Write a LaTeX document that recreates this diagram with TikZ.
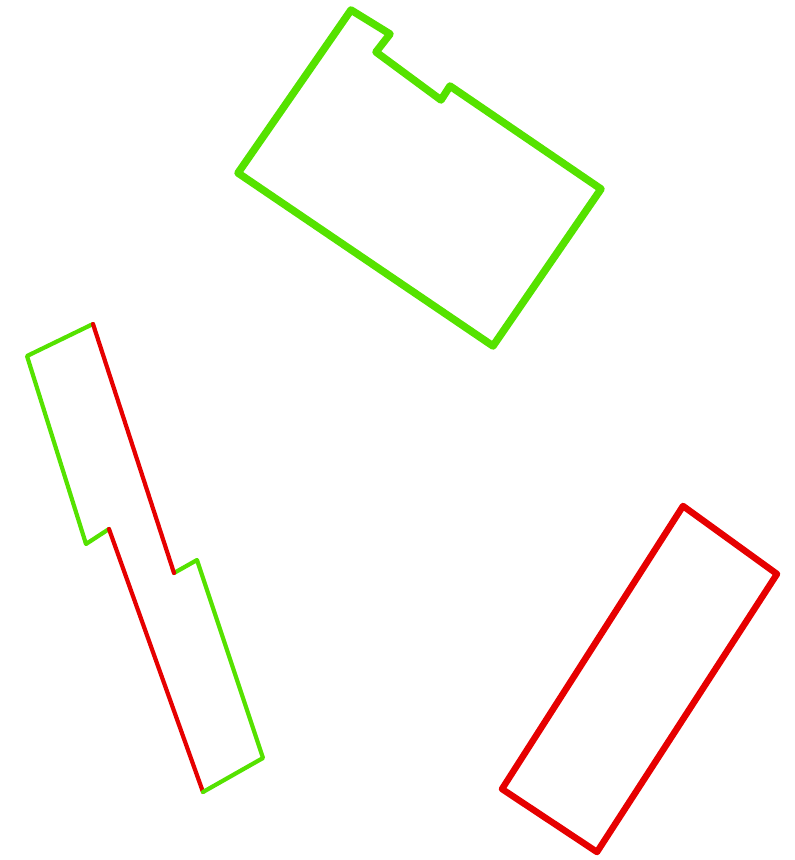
\documentclass[tikz,border=0pt]{standalone}
\begin{document}
\begin{tikzpicture}[x=1pt,y=-1pt,line join=round,line cap=round,
  grn/.style={draw={rgb,255:red,85;green,226;blue,0}},
  rd/.style={draw={rgb,255:red,230;green,0;blue,0}},
  thickg/.style={line width=7.5pt},
  thickr/.style={line width=6.5pt},
  thin4/.style={line width=4.2pt}]
\useasboundingbox (0,0) rectangle (795,860);
% top green polygon
\coordinate (g1) at (351,10);
\coordinate (g2) at (390,34);
\coordinate (g3) at (376,52);
\coordinate (g4) at (441,100);
\coordinate (g5) at (450,86);
\coordinate (g6) at (601,189);
\coordinate (g7) at (493,346);
\coordinate (g8) at (238,173);
\draw[grn,thickg] (g1) -- (g2) -- (g3) -- (g4) -- (g5) -- (g6) -- (g7) -- (g8) -- cycle;
% red rectangle
\coordinate (r1) at (683,506);
\coordinate (r2) at (777,574);
\coordinate (r3) at (597,852);
\coordinate (r4) at (502,789);
\draw[rd,thickr] (r1) -- (r2) -- (r3) -- (r4) -- cycle;
% left shape
\coordinate (l1) at (93,324);
\coordinate (l2) at (27,356);
\coordinate (l3) at (86,544);
\coordinate (l4) at (109,529);
\coordinate (l5) at (203,792);
\coordinate (l6) at (263,758);
\coordinate (l7) at (197,560);
\coordinate (l8) at (174,573);
\draw[grn,thin4] (l1) -- (l2) -- (l3) -- (l4);
\draw[rd,thin4] (l4) -- (l5);
\draw[grn,thin4] (l5) -- (l6) -- (l7) -- (l8);
\draw[rd,thin4] (l8) -- (l1);
\end{tikzpicture}
\end{document}
